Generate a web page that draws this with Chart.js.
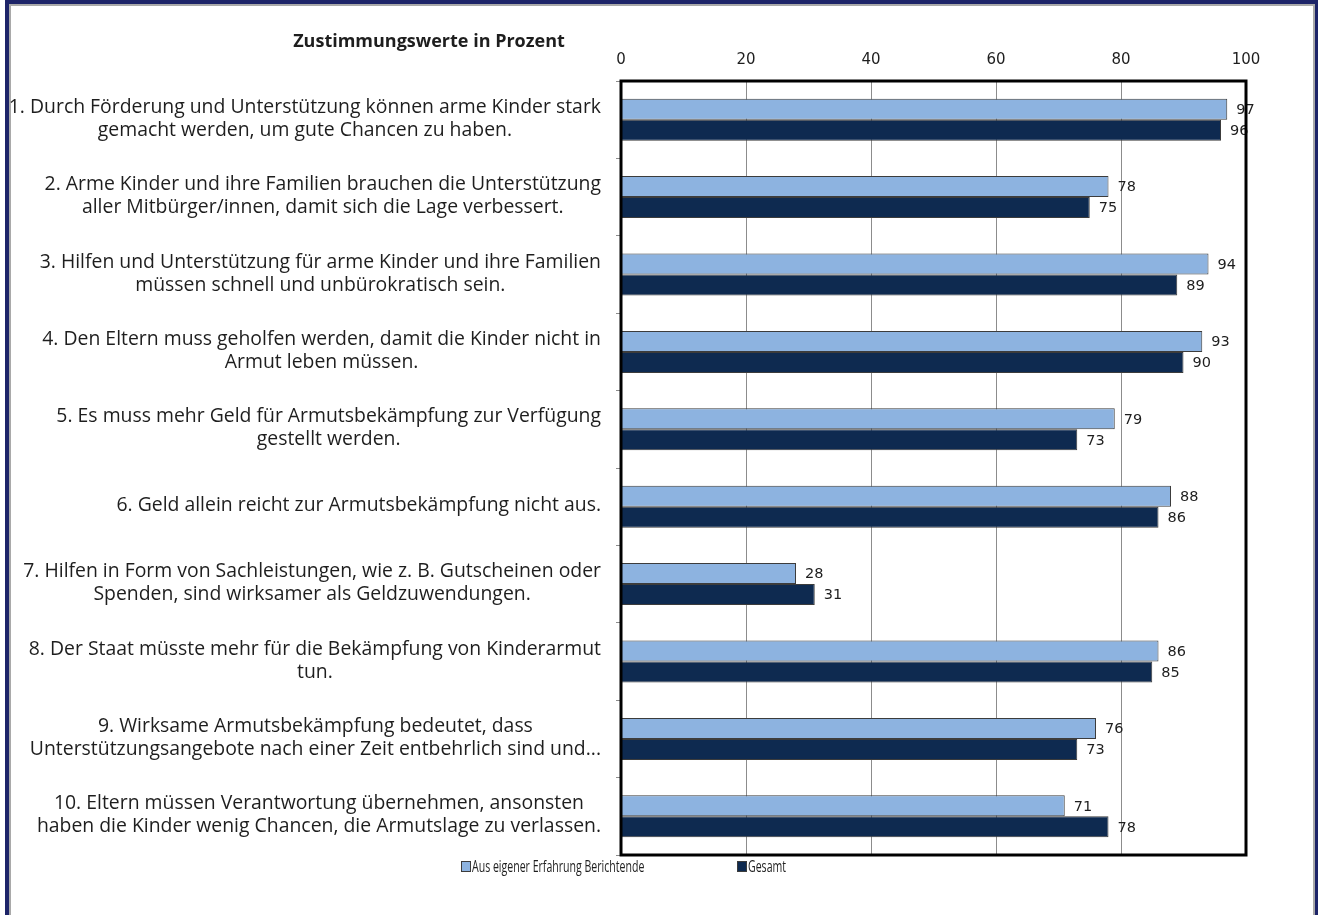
<!DOCTYPE html>
<html lang="de">
<head>
<meta charset="utf-8">
<title>Zustimmungswerte in Prozent</title>
<script src="https://cdn.jsdelivr.net/npm/chart.js@4.4.1/dist/chart.umd.min.js"></script>
<style>
  html, body { margin: 0; padding: 0; background: #fff; overflow: hidden; }
  .rahmen { position: absolute; left: 5px; top: 0; width: 1306px; height: 930px; border: 4px solid #1d2468; box-shadow: inset 0 0 0 2px #a9a9a9; }
  .wrap { position: absolute; left: 0; top: 0; width: 1318px; height: 915px; }
</style>
</head>
<body>
<div class="rahmen"></div>
<div class="wrap"><canvas id="chart" width="1318" height="915"></canvas></div>
<script>
(() => {
    // ===== Daten =====
    const titel = 'Zustimmungswerte in Prozent';
    const aussagen = [
        ['1. Durch Förderung und Unterstützung können arme Kinder stark', 'gemacht werden, um gute Chancen zu haben.'],
        ['2. Arme Kinder und ihre Familien brauchen die Unterstützung', 'aller Mitbürger/innen, damit sich die Lage verbessert.'],
        ['3. Hilfen und Unterstützung für arme Kinder und ihre Familien', 'müssen schnell und unbürokratisch sein.'],
        ['4. Den Eltern muss geholfen werden, damit die Kinder nicht in', 'Armut leben müssen.'],
        ['5. Es muss mehr Geld für Armutsbekämpfung zur Verfügung', 'gestellt werden.'],
        ['6. Geld allein reicht zur Armutsbekämpfung nicht aus.'],
        ['7. Hilfen in Form von Sachleistungen, wie z. B. Gutscheinen oder', 'Spenden, sind wirksamer als Geldzuwendungen.'],
        ['8. Der Staat müsste mehr für die Bekämpfung von Kinderarmut', 'tun.'],
        ['9. Wirksame Armutsbekämpfung bedeutet, dass', 'Unterstützungsangebote nach einer Zeit entbehrlich sind und...'],
        ['10. Eltern müssen Verantwortung übernehmen, ansonsten', 'haben die Kinder wenig Chancen, die Armutslage zu verlassen.']
    ];
    const serien = ['Aus eigener Erfahrung Berichtende', 'Gesamt'];
    const erfahrung = [97, 78, 94, 93, 79, 88, 28, 86, 76, 71];
    const gesamt = [96, 75, 89, 90, 73, 86, 31, 85, 73, 78];
    const xMin = 0, xMax = 100, xStep = 20;

    // ===== Farben / Schriften =====
    const HELL = '#8db3e0', DUNKEL = '#0e2a50', KANTE = '#3c3c3c', GRID = '#8c8c8c', TEXT = '#1e1e1e';
    const SANS = '"Open Sans", "Noto Sans", sans-serif';
    const ZAHL = '"DejaVu Sans", sans-serif';

    // Aussagen links, Titel, Werte, Rahmen und Legende
    const zeichnen = {
        id: 'zeichnen',
        afterDatasetsDraw(chart) {
            const { ctx, chartArea: a } = chart;
            ctx.save();
            ctx.font = '14.5px ' + ZAHL;
            ctx.fillStyle = TEXT;
            ctx.textBaseline = 'middle';
            ctx.textAlign = 'left';
            chart.data.datasets.forEach((ds, i) => {
                chart.getDatasetMeta(i).data.forEach((bar, j) => {
                    ctx.fillText(String(ds.data[j]), bar.x + 9, bar.y + 1);
                });
            });
            ctx.strokeStyle = '#000';
            ctx.lineWidth = 3;
            ctx.strokeRect(a.left, a.top, a.width, a.height);
            ctx.restore();
        },
        afterDraw(chart) {
            const { ctx, chartArea: a, scales: { y } } = chart;
            ctx.save();
            ctx.fillStyle = TEXT;
            ctx.textBaseline = 'middle';
            ctx.textAlign = 'center';

            // Aussagen: Block rechtsbündig, Zeilen zentriert
            ctx.font = '19.4px ' + SANS;
            const zeile = 23, rechts = a.left - 20;
            chart.data.labels.forEach((lines, i) => {
                const breite = Math.max(...lines.map(l => ctx.measureText(l).width));
                const cx = rechts - breite / 2;
                const cy = y.getPixelForValue(i) - 1 - (lines.length - 1) * zeile / 2;
                lines.forEach((l, k) => ctx.fillText(l, cx, cy + k * zeile));
            });

            // Titel
            ctx.font = 'bold 18px ' + SANS;
            ctx.textBaseline = 'alphabetic';
            ctx.fillText(titel, 429, 47);

            // Legende (schmal gesetzt)
            ctx.textAlign = 'left';
            ctx.textBaseline = 'middle';
            ctx.font = '16px ' + SANS;
            const lx = [461, 737], ly = 867;
            chart.data.datasets.forEach((ds, i) => {
                ctx.fillStyle = ds.backgroundColor;
                ctx.fillRect(lx[i] + 0.5, ly - 5.5, 9, 10);
                ctx.strokeStyle = KANTE;
                ctx.lineWidth = 1;
                ctx.strokeRect(lx[i] + 0.5, ly - 5.5, 9, 10);
                ctx.fillStyle = TEXT;
                ctx.save();
                ctx.translate(lx[i] + 11, ly);
                ctx.scale(0.66, 1);
                ctx.fillText(ds.label, 0, 0);
                ctx.restore();
            });
            ctx.restore();
        }
    };

    new Chart(document.getElementById('chart'), {
        type: 'bar',
        data: {
            labels: aussagen,
            datasets: [
                { label: serien[0], data: erfahrung, backgroundColor: HELL, borderColor: KANTE, borderWidth: 1 },
                { label: serien[1], data: gesamt, backgroundColor: DUNKEL, borderColor: KANTE, borderWidth: 1 }
            ]
        },
        options: {
            indexAxis: 'y',
            responsive: false,
            animation: false,
            devicePixelRatio: 1,
            categoryPercentage: 0.543,
            barPercentage: 1,
            layout: { padding: { left: 0, right: 72, top: 0, bottom: 60 } },
            plugins: { legend: { display: false }, tooltip: { enabled: false } },
            scales: {
                x: {
                    position: 'top', min: xMin, max: xMax,
                    ticks: { stepSize: xStep, padding: 12, color: TEXT, font: { family: ZAHL, size: 15 } },
                    grid: { color: GRID, drawTicks: false },
                    border: { display: false },
                    afterFit: s => { s.height = 81; }
                },
                y: {
                    ticks: { display: false },
                    grid: { offset: true, drawOnChartArea: false, tickLength: 5, color: GRID },
                    border: { display: false },
                    afterFit: s => { s.width = 621; }
                }
            }
        },
        plugins: [zeichnen]
    });
})();
</script>
</body>
</html>
